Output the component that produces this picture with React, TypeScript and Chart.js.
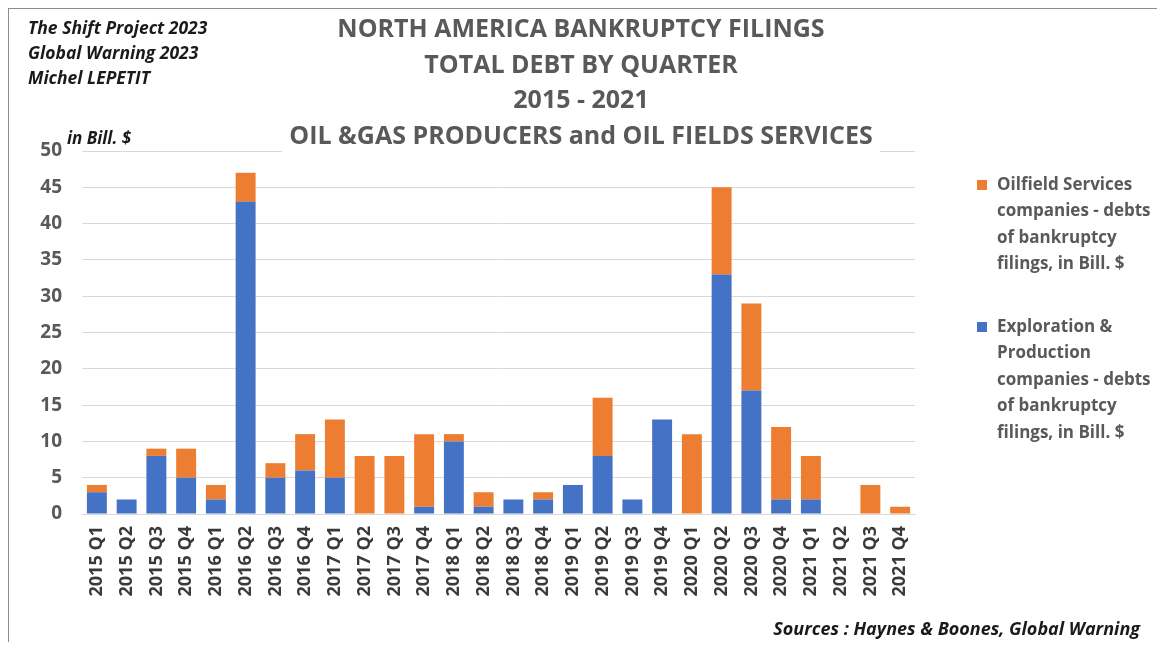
import React, { useEffect, useRef } from "react";
import { Chart, registerables } from "chart.js";

Chart.register(...registerables);

const quarters = [
  "2015 Q1", "2015 Q2", "2015 Q3", "2015 Q4",
  "2016 Q1", "2016 Q2", "2016 Q3", "2016 Q4",
  "2017 Q1", "2017 Q2", "2017 Q3", "2017 Q4",
  "2018 Q1", "2018 Q2", "2018 Q3", "2018 Q4",
  "2019 Q1", "2019 Q2", "2019 Q3", "2019 Q4",
  "2020 Q1", "2020 Q2", "2020 Q3", "2020 Q4",
  "2021 Q1", "2021 Q2", "2021 Q3", "2021 Q4",
];

const explorationProduction = [
  3, 2, 8, 5,
  2, 43, 5, 6,
  5, 0, 0, 1,
  10, 1, 2, 2,
  4, 8, 2, 13,
  0, 33, 17, 2,
  2, 0, 0, 0,
];

const oilfieldServices = [
  1, 0, 1, 4,
  2, 4, 2, 5,
  8, 8, 8, 10,
  1, 2, 0, 1,
  0, 8, 0, 0,
  11, 12, 12, 10,
  6, 0, 4, 1,
];

const titleLines = [
  "NORTH AMERICA BANKRUPTCY FILINGS",
  "TOTAL DEBT BY QUARTER",
  "2015 - 2021",
  "OIL &GAS PRODUCERS and OIL FIELDS SERVICES",
];

const noteLines = ["The Shift Project 2023", "Global Warning 2023", "Michel LEPETIT"];

const oilfieldLegend = [
  "Oilfield Services",
  "companies - debts",
  "of bankruptcy",
  "filings, in Bill. $",
];
const explorationLegend = [
  "Exploration &",
  "Production",
  "companies - debts",
  "of bankruptcy",
  "filings, in Bill. $",
];

const unitLabel = "in Bill. $";
const sourceLabel = "Sources : Haynes & Boones, Global Warning";

const BLUE = "#4472C4";
const ORANGE = "#ED7D31";
const FONT = "'Open Sans', 'DejaVu Sans', sans-serif";

// offset of canvas in page coords
const OX = 9;
const OY = 9;

const decorPlugin = {
  id: "decor",
  afterDraw(chart: any) {
    const ctx = chart.ctx as CanvasRenderingContext2D;
    ctx.save();
    // white background behind last title line (hides top gridline)
    ctx.fillStyle = "#ffffff";
    ctx.fillRect(282 - OX, 123 - OY, 598, 31);

    // Title
    ctx.fillStyle = "#595959";
    ctx.font = `bold 25px ${FONT}`;
    ctx.textAlign = "center";
    ctx.textBaseline = "middle";
    const ty = [30, 66, 101, 137];
    titleLines.forEach((t, i) => ctx.fillText(t, 581 - OX, ty[i] - OY));

    // Notes top-left
    ctx.fillStyle = "#1a1a1a";
    ctx.font = `italic bold 17.5px ${FONT}`;
    ctx.textAlign = "left";
    const ny = [29, 54, 79];
    noteLines.forEach((t, i) => ctx.fillText(t, 28 - OX, ny[i] - OY));

    // unit label
    ctx.font = `italic bold 17px ${FONT}`;
    ctx.fillText(unitLabel, 67 - OX, 139 - OY);

    // Sources
    ctx.font = `italic bold 18px ${FONT}`;
    ctx.textAlign = "right";
    ctx.fillText(sourceLabel, 1140 - OX, 630 - OY);

    // Legend
    ctx.textAlign = "left";
    ctx.font = `bold 17px ${FONT}`;
    const drawItem = (color: string, lines: string[], y0: number) => {
      ctx.fillStyle = color;
      ctx.fillRect(977 - OX, y0 - 5 - OY, 10, 10);
      ctx.fillStyle = "#595959";
      lines.forEach((t, i) => ctx.fillText(t, 997 - OX, y0 + i * 26.5 - OY));
    };
    drawItem(ORANGE, oilfieldLegend, 185);
    drawItem(BLUE, explorationLegend, 327);
    ctx.restore();
  },
};

export default function App() {
  const ref = useRef<HTMLCanvasElement | null>(null);
  useEffect(() => {
    if (!ref.current) return;
    const chart = new Chart(ref.current, {
      type: "bar",
      data: {
        labels: quarters,
        datasets: [
          {
            label: "Exploration & Production companies - debts of bankruptcy filings, in Bill. $",
            data: explorationProduction,
            backgroundColor: BLUE,
            barPercentage: 0.67,
            categoryPercentage: 1,
          },
          {
            label: "Oilfield Services companies - debts of bankruptcy filings, in Bill. $",
            data: oilfieldServices,
            backgroundColor: ORANGE,
            barPercentage: 0.67,
            categoryPercentage: 1,
          },
        ],
      },
      options: {
        animation: false,
        responsive: true,
        maintainAspectRatio: false,
        layout: { padding: { left: 23, right: 1156 - 906, top: 142, bottom: 28 } },
        plugins: {
          legend: { display: false },
          title: { display: false },
          tooltip: { enabled: false },
        },
        scales: {
          x: {
            stacked: true,
            grid: { display: false, drawTicks: false },
            border: { display: true, color: "#d9d9d9", width: 1 },
            ticks: {
              autoSkip: false,
              maxRotation: 90,
              minRotation: 90,
              padding: 12,
              color: "#3a3a3a",
              font: { family: FONT, size: 18, weight: "bold" },
            },
            afterFit(scale: any) {
              scale.height = 100;
            },
          },
          y: {
            stacked: true,
            min: 0,
            max: 50,
            grid: { color: "#d9d9d9", drawTicks: false, lineWidth: 1 },
            border: { display: false },
            ticks: {
              stepSize: 5,
              padding: 20,
              color: "#595959",
              font: { family: FONT, size: 19, weight: "bold" },
            },
            afterFit(scale: any) {
              scale.width = 50;
            },
          },
        },
      },
      plugins: [decorPlugin],
    });
    return () => chart.destroy();
  }, []);

  return (
    <div
      style={{
        position: "relative",
        width: 1157,
        height: 634,
        boxSizing: "border-box",
        borderTop: "1px solid #8c8c8c",
        borderLeft: "1px solid #8c8c8c",
        background: "#ffffff",
      }}
    >
      <canvas ref={ref} />
    </div>
  );
}
